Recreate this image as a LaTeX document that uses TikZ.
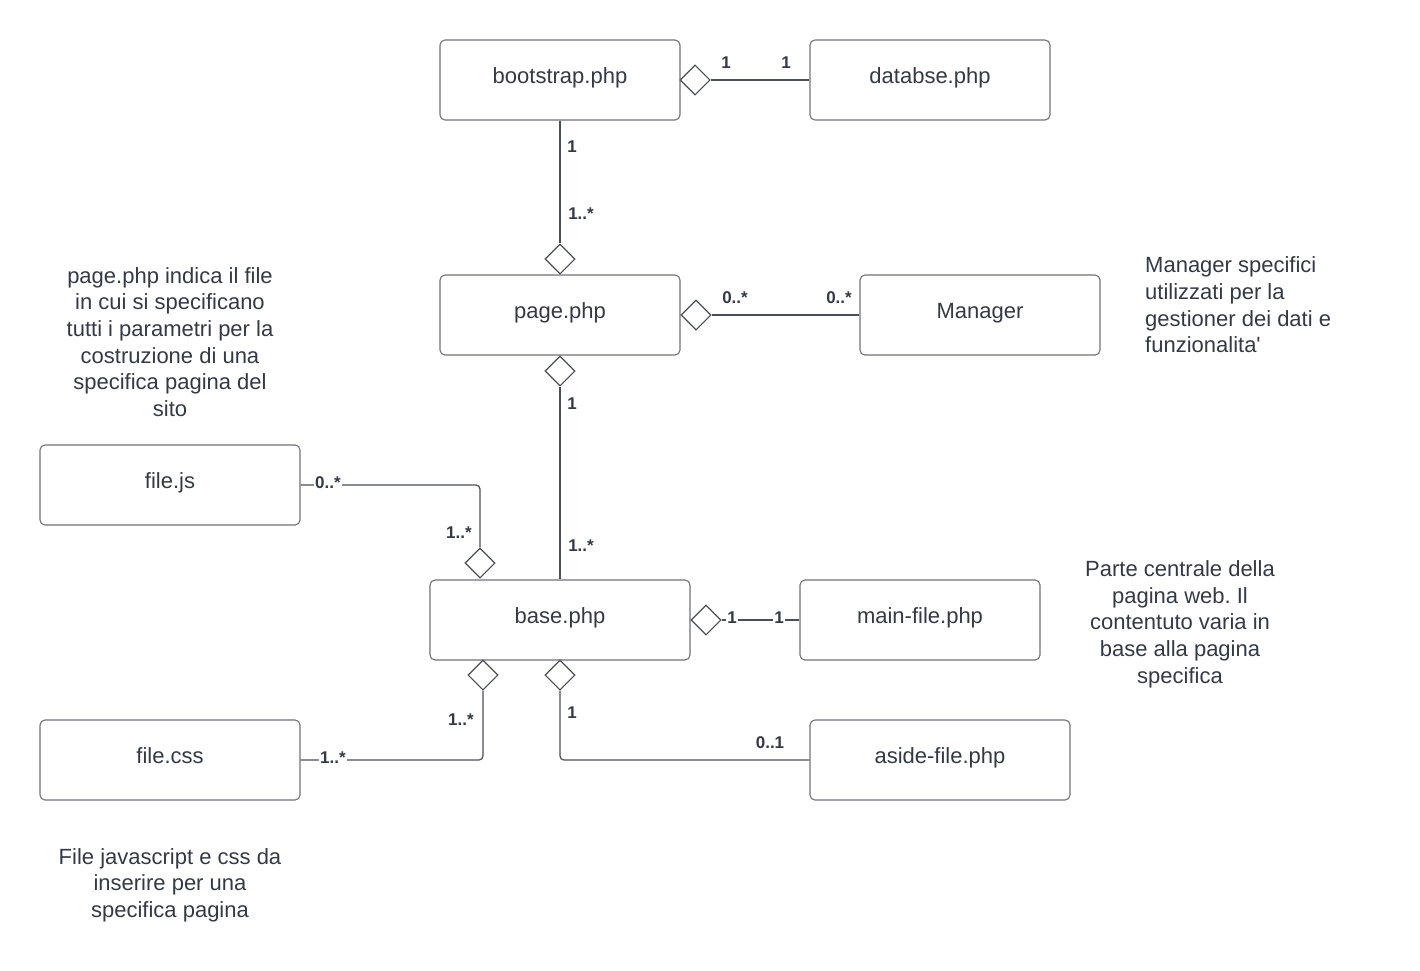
\documentclass[tikz,border=0pt]{standalone}
\usepackage{fontspec}
\setmainfont{Liberation Sans}
\usetikzlibrary{shapes.geometric}
\definecolor{ink}{HTML}{333A45}
\definecolor{edge}{HTML}{4A4F57}
\frenchspacing
\begin{document}
\begin{tikzpicture}[x=1pt,y=-1pt,
  every node/.style={text=ink},
  cls/.style={draw=edge!80, line width=1.1pt, rounded corners=5pt, minimum height=80pt,
    inner sep=0pt, text height=16pt, text depth=8.6pt, font=\fontsize{22}{26}\selectfont},
  clsw/.style={cls, minimum width=240pt},
  clsx/.style={cls, minimum width=260pt},
  agg/.style={diamond, draw=edge, line width=1.1pt, fill=white, inner sep=0pt,
    minimum width=30pt, minimum height=30pt, shape aspect=1},
  conn/.style={draw=edge, line width=1.2pt, rounded corners=4pt},
  mult/.style={font=\fontsize{17}{19}\selectfont\bfseries, inner sep=1pt},
  multon/.style={mult, fill=white},
  note/.style={font=\fontsize{22}{26.7}\selectfont, inner sep=0pt}]
\useasboundingbox (0,0) rectangle (1420,970);

% classes
\node[clsw] (boot)  at (560,80)  {bootstrap.php};
\node[clsw] (db)    at (930,80)  {databse.php};
\node[clsw] (page)  at (560,315) {page.php};
\node[clsw] (mgr)   at (980,315) {Manager};
\node[clsx] (js)    at (170,485) {file.js};
\node[clsx] (base)  at (560,620) {base.php};
\node[clsw] (main)  at (920,620) {main-file.php};
\node[clsx] (css)   at (170,760) {file.css};
\node[clsx] (aside) at (940,760) {aside-file.php};

% aggregation diamonds
\node[agg] (dboot)  at (695,80)  {};
\node[agg] (dpgt)   at (560,259) {};
\node[agg] (dpgb)   at (560,371) {};
\node[agg] (dpgr)   at (696,315) {};
\node[agg] (dbjs)   at (480,563) {};
\node[agg] (dbmain) at (706,620) {};
\node[agg] (dbcss)  at (483,675) {};
\node[agg] (dbside) at (560,675) {};

% corner points
\coordinate (cjs)   at (480,485);
\coordinate (ccss)  at (483,760);
\coordinate (cside) at (560,760);

% connectors
\draw[conn] (dboot.east) -- (db.west |- dboot.east);
\draw[conn] (boot.south) -- (dpgt.north);
\draw[conn] (dpgb.south) -- (base.north);
\draw[conn] (dpgr.east) -- (mgr.west |- dpgr.east);
\draw[conn] (js.east |- cjs) -- (cjs) -- (dbjs.north);
\draw[conn] (dbmain.east) -- (main.west |- dbmain.east);
\draw[conn] (dbcss.south) -- (ccss) -- (css.east |- ccss);
\draw[conn] (dbside.south) -- (cside) -- (aside.west |- cside);

% multiplicities
\node[mult] at (726,63) {1};
\node[mult] at (786,63) {1};
\node[mult] at (572,147) {1};
\node[mult] at (581,214) {1..*};
\node[mult] at (735,298) {0..*};
\node[mult] at (839,298) {0..*};
\node[mult] at (572,404) {1};
\node[mult] at (581,546) {1..*};
\node[multon] at (328,483) {0..*};
\node[mult] at (459,533) {1..*};
\node[multon] at (732,618) {1};
\node[multon] at (779,618) {1};
\node[mult] at (461,720) {1..*};
\node[multon] at (333,758) {1..*};
\node[mult] at (572,713) {1};
\node[mult] at (770,743) {0..1};

% notes
\node[note, align=center] (n1) at (170,342) {page.php indica il file\\in cui si specificano\\tutti i parametri per la\\costruzione di una\\specifica pagina del\\sito};
\node[note, align=left, anchor=west] (n2) at (1145,305) {Manager specifici\\utilizzati per la\\gestioner dei dati e\\funzionalita\textquotesingle};
\node[note, align=center] (n3) at (1180,624) {Parte centrale della\\pagina web. Il\\contentuto varia in\\base alla pagina\\specifica};
\node[note, align=center] (n4) at (170,885) {File javascript e css da\\inserire per una\\specifica pagina};
\end{tikzpicture}
\end{document}
